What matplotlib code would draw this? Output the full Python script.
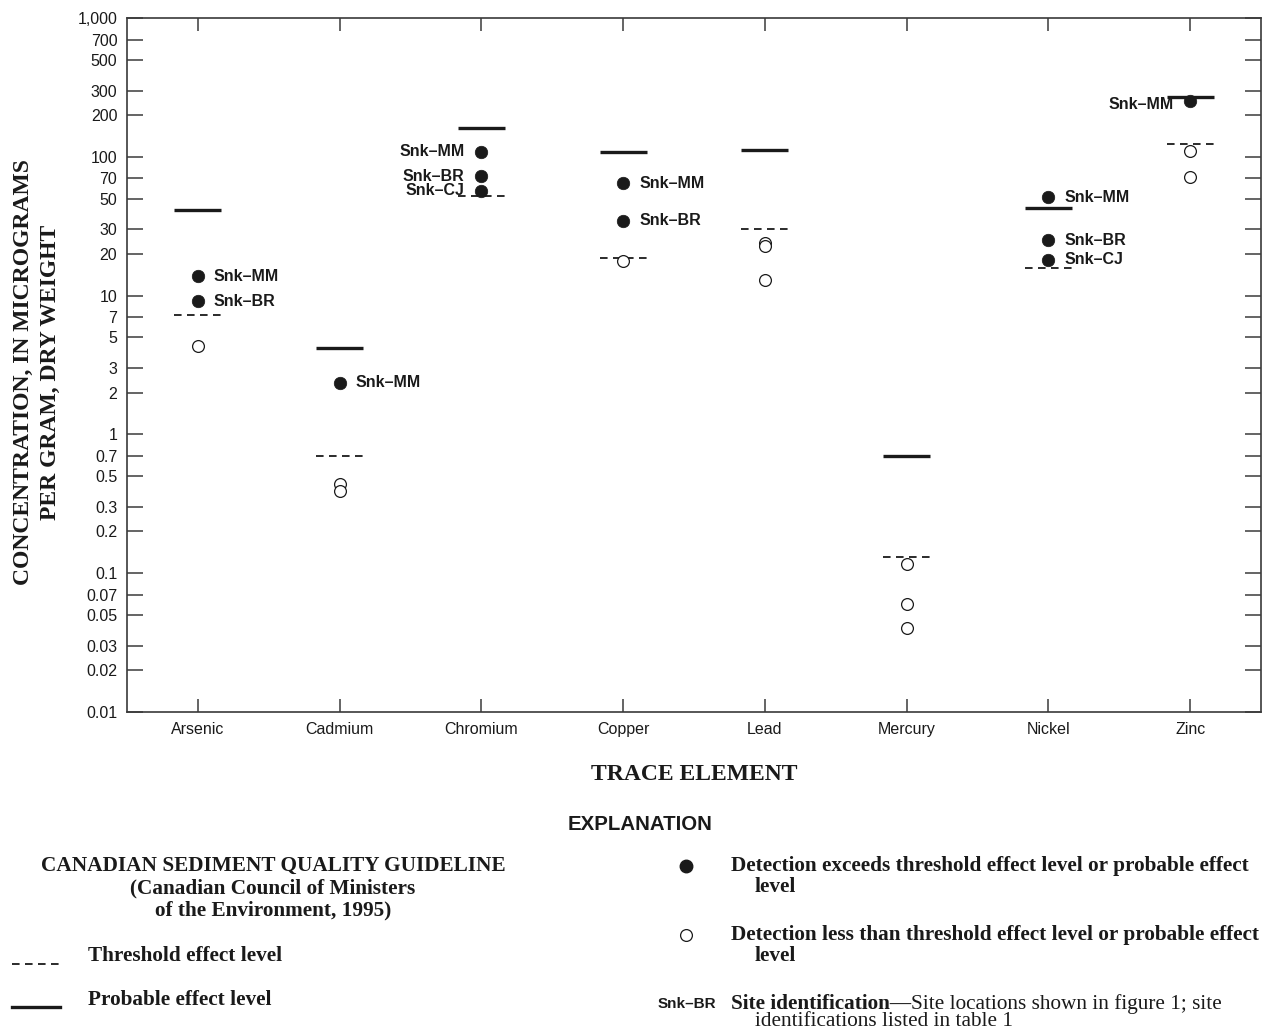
import matplotlib
matplotlib.use("Agg")
import matplotlib.pyplot as plt
from matplotlib.lines import Line2D

# Trace elements and Canadian sediment quality guideline levels (micrograms per gram)
elements = ["Arsenic", "Cadmium", "Chromium", "Copper", "Lead", "Mercury", "Nickel", "Zinc"]
threshold_level = [7.24, 0.7, 52.3, 18.7, 30.2, 0.13, 15.9, 124]
probable_level = [41.6, 4.2, 160, 108, 112, 0.7, 42.8, 271]

# Detections that exceed a guideline level, with site identifiers
exceed_element = ["Arsenic", "Arsenic", "Cadmium", "Chromium", "Chromium", "Chromium",
                  "Copper", "Copper", "Nickel", "Nickel", "Nickel", "Zinc"]
exceed_value = [13.8, 9.1, 2.36, 109, 72.7, 57, 64.4, 34.6, 51, 25, 18.1, 254]
exceed_site = ["Snk–MM", "Snk–BR", "Snk–MM", "Snk–MM", "Snk–BR", "Snk–CJ",
               "Snk–MM", "Snk–BR", "Snk–MM", "Snk–BR", "Snk–CJ", "Snk–MM"]

# Detections below the guideline levels
below_element = ["Arsenic", "Cadmium", "Cadmium", "Copper", "Lead", "Lead", "Lead",
                 "Mercury", "Mercury", "Mercury", "Zinc", "Zinc"]
below_value = [4.36, 0.44, 0.39, 17.8, 24.1, 22.8, 13.0, 0.116, 0.060, 0.040, 110, 71]

y_ticks = [0.01, 0.02, 0.03, 0.05, 0.07, 0.1, 0.2, 0.3, 0.5, 0.7, 1, 2, 3, 5, 7,
           10, 20, 30, 50, 70, 100, 200, 300, 500, 700, 1000]
y_tick_labels = ["0.01", "0.02", "0.03", "0.05", "0.07", "0.1", "0.2", "0.3", "0.5", "0.7",
                 "1", "2", "3", "5", "7", "10", "20", "30", "50", "70", "100", "200",
                 "300", "500", "700", "1,000"]

SANS = "Liberation Sans"
SERIF = "Liberation Serif"
W, H = 1264, 1033

fig = plt.figure(figsize=(W / 100, H / 100), dpi=100)
ax = fig.add_axes([127 / W, 1 - 712 / H, (1261 - 127) / W, (712 - 18) / H])
ax.set_yscale("log")
ax.set_ylim(0.01, 1000)
ax.set_xlim(-0.5, len(elements) - 0.5)

xpos = {name: i for i, name in enumerate(elements)}
half = 0.165

# Guideline levels
for i, (tel, pel) in enumerate(zip(threshold_level, probable_level)):
    ax.hlines(tel, i - half, i + half, colors="#1a1a1a", linewidth=1.3,
              linestyles=(0, (4.2, 3.0)), zorder=2)
    ax.hlines(pel, i - half, i + half, colors="#1a1a1a", linewidth=2.4, zorder=2)

# Samples below guideline levels
ax.plot([xpos[e] for e in below_element], below_value, linestyle="none", marker="o",
        markersize=8.5, markerfacecolor="white", markeredgecolor="#1a1a1a",
        markeredgewidth=0.9, zorder=3)

# Samples exceeding guideline levels
ax.plot([xpos[e] for e in exceed_element], exceed_value, linestyle="none", marker="o",
        markersize=9, markerfacecolor="#1a1a1a", markeredgecolor="#1a1a1a",
        markeredgewidth=0.5, zorder=4)

left_labelled = {"Chromium", "Zinc"}
for e, v, s in zip(exceed_element, exceed_value, exceed_site):
    if e in left_labelled:
        dy = -3 if e == "Zinc" else 0
        ax.annotate(s, (xpos[e], v), xytext=(-12, dy), textcoords="offset points",
                    ha="right", va="center", family=SANS, weight="bold", fontsize=11.5,
                    color="#1a1a1a", zorder=5)
    else:
        ax.annotate(s, (xpos[e], v), xytext=(11.5, 0), textcoords="offset points",
                    ha="left", va="center", family=SANS, weight="bold", fontsize=11.5,
                    color="#1a1a1a", zorder=5)

# Axes styling
for sp in ax.spines.values():
    sp.set_color("#3a3a3a")
    sp.set_linewidth(1.2)
ax.set_yticks(y_ticks)
ax.set_yticklabels(y_tick_labels)
ax.yaxis.set_minor_locator(matplotlib.ticker.NullLocator())
ax.set_xticks(range(len(elements)))
ax.set_xticklabels(elements)
ax.tick_params(axis="y", which="major", direction="in", length=11.5, width=1.1,
               color="#3a3a3a", left=True, right=True, labelsize=11.5, pad=7)
ax.tick_params(axis="x", which="major", direction="in", length=9.5, width=1.1,
               color="#3a3a3a", top=True, bottom=True, labelsize=11.5, pad=7.5)
for lab in ax.get_xticklabels() + ax.get_yticklabels():
    lab.set_family(SANS)
    lab.set_color("#1a1a1a")

# Axis titles
fig.text(23 / W, 1 - 372 / H, "CONCENTRATION, IN MICROGRAMS", rotation=90, ha="center",
         va="center", family=SERIF, weight="bold", fontsize=17, color="#1a1a1a")
fig.text(50 / W, 1 - 372 / H, "PER GRAM, DRY WEIGHT", rotation=90, ha="center",
         va="center", family=SERIF, weight="bold", fontsize=17, color="#1a1a1a")
fig.text(694 / W, 1 - 775 / H, "TRACE ELEMENT", ha="center", va="center", family=SERIF,
         weight="bold", fontsize=17, color="#1a1a1a")

# Explanation block
fig.text(640 / W, 1 - 824 / H, "EXPLANATION", ha="center", va="center", family=SANS,
         weight="bold", fontsize=14.7, color="#1a1a1a")

serif_kw = dict(family=SERIF, fontsize=15.3, color="#1a1a1a", va="center")
fig.text(273 / W, 1 - 866 / H, "CANADIAN SEDIMENT QUALITY GUIDELINE", ha="center",
         weight="bold", **serif_kw)
fig.text(273 / W, 1 - 888 / H, "(Canadian Council of Ministers", ha="center",
         weight="bold", **serif_kw)
fig.text(273 / W, 1 - 910 / H, "of the Environment, 1995)", ha="center",
         weight="bold", **serif_kw)

fig.add_artist(Line2D([12 / W, 60 / W], [1 - 964 / H, 1 - 964 / H], color="#1a1a1a",
                      linewidth=1.3, linestyle=(0, (4.2, 3.0))))
fig.text(88 / W, 1 - 956 / H, "Threshold effect level", ha="left", weight="bold", **serif_kw)
fig.add_artist(Line2D([12 / W, 60 / W], [1 - 1007 / H, 1 - 1007 / H], color="#1a1a1a",
                      linewidth=2.4))
fig.text(88 / W, 1 - 1000 / H, "Probable effect level", ha="left", weight="bold", **serif_kw)

fig.add_artist(Line2D([686 / W], [1 - 866 / H], linestyle="none", marker="o", markersize=9,
                      markerfacecolor="#1a1a1a", markeredgecolor="#1a1a1a"))
fig.text(731 / W, 1 - 866 / H, "Detection exceeds threshold effect level or probable effect",
         ha="left", weight="bold", **serif_kw)
fig.text(755 / W, 1 - 887 / H, "level", ha="left", weight="bold", **serif_kw)

fig.add_artist(Line2D([686 / W], [1 - 935 / H], linestyle="none", marker="o", markersize=8.5,
                      markerfacecolor="white", markeredgecolor="#1a1a1a", markeredgewidth=0.9))
fig.text(731 / W, 1 - 935 / H, "Detection less than threshold effect level or probable effect",
         ha="left", weight="bold", **serif_kw)
fig.text(755 / W, 1 - 956 / H, "level", ha="left", weight="bold", **serif_kw)

fig.text(716 / W, 1 - 1004 / H, "Snk–BR", ha="right", va="center", family=SANS,
         weight="bold", fontsize=11, color="#1a1a1a")
bold_part = fig.text(731 / W, 1 - 1004 / H, "Site identification—", ha="left",
                     weight="bold", **serif_kw)
renderer = fig.canvas.get_renderer()
bb = bold_part.get_window_extent(renderer=renderer)
fig.text(bb.x1 / W, 1 - 1004 / H, "Site locations shown in figure 1; site", ha="left",
         **serif_kw)
fig.text(755 / W, 1 - 1021 / H, "identifications listed in table 1", ha="left", **serif_kw)

fig.savefig("out.png", dpi=100, facecolor="white")
